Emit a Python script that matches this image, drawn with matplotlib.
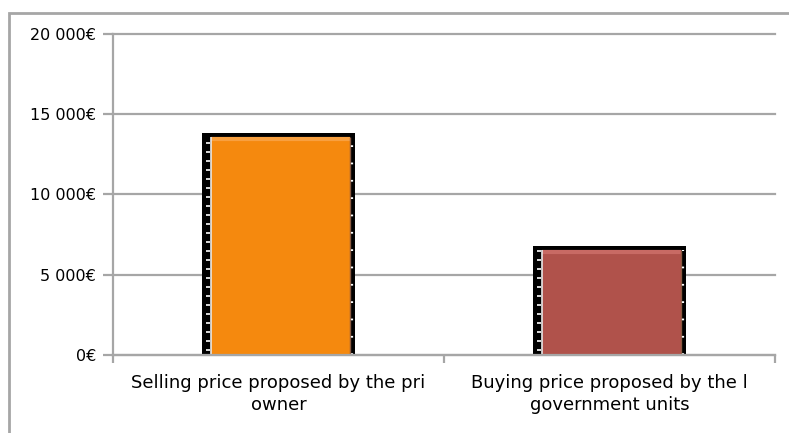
import matplotlib.pyplot as plt
import matplotlib.ticker as ticker
from matplotlib.patches import Rectangle

categories = ['Selling price proposed by the pri\nowner',
              'Buying price proposed by the l\ngovernment units']
prices = [13600, 6550]
bar_colors = ['#F5890E', '#B0524B']
top_colors = ['#F8A040', '#C86A64']
yticks = [0, 5000, 10000, 15000, 20000]

fig = plt.figure(figsize=(7.89, 4.33), dpi=100)
ax = fig.add_axes([113 / 789, 1 - 355 / 433, 662 / 789, 321 / 433])

# outer chart frame (only left/top edges visible in the picture)
fig.patches.append(Rectangle((9 / 789, -0.05), 1.2, 1 - 13 / 433 + 0.05,
                             transform=fig.transFigure, fill=False,
                             edgecolor='#A6A6A6', linewidth=2))

x = list(range(len(categories)))
# black backing behind each bar, a bit wider and taller
ax.bar(x, [p + 260 for p in prices], width=0.462, color='black', zorder=3)
bars = ax.bar([i + 0.006 for i in x], prices, width=0.42, color=bar_colors,
              zorder=4)

# highlight, light rims and white marks on the black edges
for b, tc in zip(bars, top_colors):
    x0, x1, h = b.get_x(), b.get_x() + b.get_width(), b.get_height()
    ax.hlines(h - 130, x0, x1, colors=tc, linewidth=3, zorder=5)
    ax.vlines(x0, 0, h, colors='#E8E8E8', linewidth=1.2, zorder=5)
    ax.vlines(x1, 0, h, colors='#8A5A40', linewidth=1, zorder=5)
    ax.hlines([v for v in range(300, int(h), 560)], x0 - 0.014, x0 - 0.004,
              colors='white', linewidth=1.2, zorder=5)
    ax.vlines(x1 + 0.007, 0, h, colors='white', linewidth=1.6,
              linestyles=(0, (0.8, 7)), zorder=5)

ax.set_xlim(-0.5, 1.5)
ax.set_ylim(0, 20000)
ax.set_yticks(yticks)
ax.yaxis.set_major_formatter(ticker.FuncFormatter(
    lambda v, pos: '{:,.0f}€'.format(v).replace(',', ' ')))
ax.grid(axis='y', color='#A6A6A6', linewidth=1.6, zorder=0)
for gl in ax.get_ygridlines():
    gl.set_clip_on(False)

ax.set_xticks([-0.5, 0.5, 1.5])
ax.set_xticklabels([])
ax.set_xticks(x, categories, minor=True)
ax.tick_params(axis='x', which='minor', length=0, labelsize=13, pad=14)
ax.tick_params(axis='x', which='major', length=6, width=1.6, color='#A6A6A6')
ax.tick_params(axis='y', length=7, width=1.6, color='#A6A6A6',
               labelsize=11.5, pad=5)
for lbl in ax.get_xticklabels(minor=True):
    lbl.set_linespacing(1.25)

for s in ['top', 'right']:
    ax.spines[s].set_visible(False)
for s in ['left', 'bottom']:
    ax.spines[s].set_color('#A6A6A6')
    ax.spines[s].set_linewidth(1.6)
    ax.spines[s].set_zorder(6)

plt.savefig('out.png', dpi=100)
